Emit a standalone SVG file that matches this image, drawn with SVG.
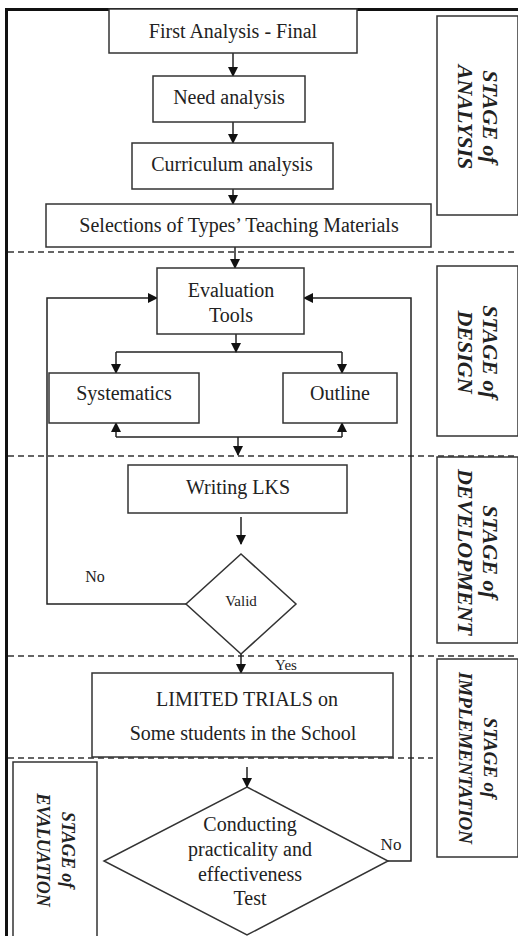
<svg xmlns="http://www.w3.org/2000/svg" width="518" height="936" viewBox="0 0 518 936">
<defs>
<style>
.box{fill:#fff;stroke:#333;stroke-width:1.5}
text{font-family:'Liberation Serif','DejaVu Serif',serif;fill:#222;text-anchor:middle}
.t{font-size:20px}
.s{font-weight:bold;font-style:italic}
.c{fill:none;stroke:#222;stroke-width:1.5}
.dash{fill:none;stroke:#333;stroke-width:1.5;stroke-dasharray:6 4}
</style>
<marker id="ah" markerWidth="10" markerHeight="10" refX="9" refY="5" orient="auto" markerUnits="userSpaceOnUse">
<path d="M0,0 L10,5 L0,10 Z" fill="#111"/>
</marker>
</defs>
<rect width="518" height="936" fill="#fff"/>
<g id="frame">
<line x1="5" y1="9.5" x2="518" y2="9.5" stroke="#111" stroke-width="3"/>
<line x1="6.5" y1="8" x2="6.5" y2="936" stroke="#111" stroke-width="3"/>
</g>
<g id="dividers">
<line class="dash" x1="8" y1="252" x2="518" y2="252"/>
<line class="dash" x1="8" y1="456" x2="518" y2="456"/>
<line class="dash" x1="8" y1="656" x2="518" y2="656"/>
<line class="dash" x1="8" y1="758" x2="433" y2="758"/>
</g>
<g id="connectors">
<path class="c" d="M233,53 V76" marker-end="url(#ah)"/>
<path class="c" d="M233,122 V143" marker-end="url(#ah)"/>
<path class="c" d="M233,189 V204" marker-end="url(#ah)"/>
<path class="c" d="M235,247 V268" marker-end="url(#ah)"/>
<path class="c" d="M236,334 V352" marker-end="url(#ah)"/>
<path class="c" d="M116,352 H342"/>
<path class="c" d="M116,352 V373" marker-end="url(#ah)"/>
<path class="c" d="M342,352 V373" marker-end="url(#ah)"/>
<path class="c" d="M116,437 H342"/>
<path class="c" d="M116,437 V423" marker-end="url(#ah)"/>
<path class="c" d="M342,437 V423" marker-end="url(#ah)"/>
<path class="c" d="M238,437 V455" marker-end="url(#ah)"/>
<path class="c" d="M186,604 H47 V298 H157" marker-end="url(#ah)"/>
<path class="c" d="M388,861 H411 V298 H304" marker-end="url(#ah)"/>
<path class="c" d="M241,517 V544" marker-end="url(#ah)"/>
<path class="c" d="M241,654 V673" marker-end="url(#ah)"/>
<path class="c" d="M247,767 V787" marker-end="url(#ah)"/>
<text x="95" y="582" font-family="Liberation Serif, serif" font-size="16">No</text>
<text x="286" y="670" font-family="Liberation Serif, serif" font-size="15">Yes</text>
<text x="391" y="850" font-family="Liberation Serif, serif" font-size="17">No</text>
</g>
<g id="first-analysis">
<rect class="box" x="109" y="9" width="248" height="44"/>
<text class="t" x="233" y="38">First Analysis - Final</text>
</g>
<g id="need-analysis">
<rect class="box" x="153" y="76" width="152" height="46"/>
<text class="t" x="229" y="104">Need analysis</text>
</g>
<g id="curriculum-analysis">
<rect class="box" x="132" y="143" width="201" height="46"/>
<text class="t" x="232" y="171">Curriculum analysis</text>
</g>
<g id="selections">
<rect class="box" x="46" y="204" width="385" height="43"/>
<text class="t" x="239" y="232">Selections of Types’ Teaching Materials</text>
</g>
<g id="evaluation-tools">
<rect class="box" x="157" y="268" width="147" height="66"/>
<text class="t" x="231" y="297">Evaluation</text>
<text class="t" x="231" y="322">Tools</text>
</g>
<g id="systematics">
<rect class="box" x="49" y="373" width="150" height="50"/>
<text class="t" x="124" y="400">Systematics</text>
</g>
<g id="outline">
<rect class="box" x="283" y="373" width="114" height="50"/>
<text class="t" x="340" y="400">Outline</text>
</g>
<g id="writing-lks">
<rect class="box" x="128" y="465" width="219" height="48"/>
<text class="t" x="238" y="494">Writing LKS</text>
</g>
<g id="valid">
<polygon class="box" points="241,554 296,604 241,654 186,604"/>
<text x="241" y="606" font-size="15">Valid</text>
</g>
<g id="limited-trials">
<rect class="box" x="92" y="673" width="301" height="84"/>
<text class="t" x="247" y="706">LIMITED TRIALS on</text>
<text class="t" x="243" y="740">Some students in the School</text>
</g>
<g id="test">
<polygon class="box" points="247,787 388,861 247,935 104,861"/>
<text class="t" x="250" y="831">Conducting</text>
<text class="t" x="250" y="856">practicality and</text>
<text class="t" x="250" y="881">effectiveness</text>
<text class="t" x="250" y="905">Test</text>
</g>
<g id="stage-analysis">
<rect class="box" x="437" y="16" width="81" height="199"/>
<text class="s" font-size="22" transform="translate(478,117) rotate(90)"><tspan x="0" y="-5">STAGE of</tspan><tspan x="0" y="20">ANALYSIS</tspan></text>
</g>
<g id="stage-design">
<rect class="box" x="437" y="266" width="81" height="170"/>
<text class="s" font-size="22" transform="translate(478,352) rotate(90)"><tspan x="0" y="-5">STAGE of</tspan><tspan x="0" y="20">DESIGN</tspan></text>
</g>
<g id="stage-development">
<rect class="box" x="437" y="457" width="81" height="186"/>
<text class="s" font-size="22" transform="translate(478,552) rotate(90)"><tspan x="0" y="-5">STAGE of</tspan><tspan x="0" y="20">DEVELOPMENT</tspan></text>
</g>
<g id="stage-implementation">
<rect class="box" x="437" y="659" width="81" height="198"/>
<text class="s" font-size="19" transform="translate(478,758) rotate(90)"><tspan x="0" y="-6">STAGE of</tspan><tspan x="0" y="19">IMPLEMENTATION</tspan></text>
</g>
<g id="stage-evaluation">
<rect class="box" x="13" y="762" width="84" height="180"/>
<text class="s" font-size="18" transform="translate(56,850) rotate(90)"><tspan x="0" y="-6">STAGE of</tspan><tspan x="0" y="19">EVALUATION</tspan></text>
</g>
</svg>
